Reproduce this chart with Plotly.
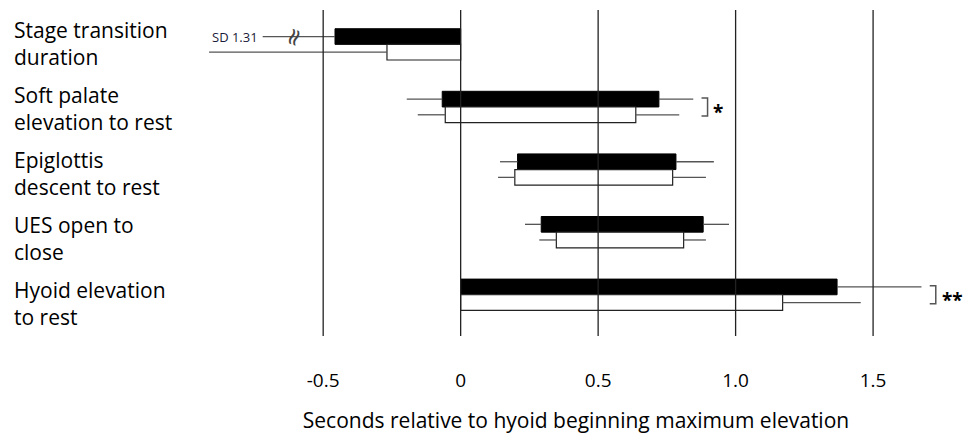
import plotly.graph_objects as go

categories = ["Stage transition<br>duration", "Soft palate<br>elevation to rest",
              "Epiglottis<br>descent to rest", "UES open to<br>close",
              "Hyoid elevation<br>to rest"]
# black (first group) bars
black_start = [-0.457, -0.067, 0.207, 0.293, 0.0]
black_end = [0.0, 0.721, 0.783, 0.882, 1.369]
black_whisk_lo = [-0.72, -0.196, 0.143, 0.234, None]
black_whisk_hi = [None, 0.846, 0.921, 0.976, 1.676]
# white (second group) bars
white_start = [-0.268, -0.056, 0.197, 0.348, 0.0]
white_end = [0.0, 0.637, 0.771, 0.811, 1.171]
white_whisk_lo = [-0.915, -0.156, 0.136, 0.286, None]
white_whisk_hi = [None, 0.795, 0.892, 0.892, 1.455]
significance = ["", "*", "", "", "**"]
x_ticks = [-0.5, 0, 0.5, 1.0, 1.5]
x_ticktext = ["-0.5", "0", "0.5", "1.0", "1.5"]
sd_note = "SD 1.31"

FONT = "Open Sans"
idx = list(range(len(categories)))
W = 0.25

fig = go.Figure()
fig.add_trace(go.Bar(
    y=idx, x=[e - s for s, e in zip(black_start, black_end)], base=black_start,
    orientation="h", width=W, offset=-W,
    marker=dict(color="black", line=dict(color="black", width=1)),
    showlegend=False, hoverinfo="skip"))
fig.add_trace(go.Bar(
    y=idx, x=[e - s for s, e in zip(white_start, white_end)], base=white_start,
    orientation="h", width=W, offset=0,
    marker=dict(color="white", line=dict(color="#222", width=1.2)),
    showlegend=False, hoverinfo="skip"))


def whiskers(starts, ends, lo, hi, dy):
    xs, ys = [], []
    for i, (s, e, l, h) in enumerate(zip(starts, ends, lo, hi)):
        if l is not None:
            xs += [l, s, None]
            ys += [i + dy, i + dy, None]
        if h is not None:
            xs += [e, h, None]
            ys += [i + dy, i + dy, None]
    return xs, ys


for st, en, lo, hi, dy in [(black_start, black_end, black_whisk_lo, black_whisk_hi, -W / 2),
                           (white_start, white_end, white_whisk_lo, white_whisk_hi, W / 2)]:
    xs, ys = whiskers(st, en, lo, hi, dy)
    fig.add_trace(go.Scatter(x=xs, y=ys, mode="lines",
                             line=dict(color="#555", width=1.3),
                             showlegend=False, hoverinfo="skip"))

shapes = []
for t in x_ticks:
    shapes.append(dict(type="line", xref="x", yref="paper", x0=t, x1=t, y0=0, y1=1,
                       line=dict(color="#222", width=1.3), layer="above"))

annotations = []
label_top, label_step = 0.8976, 0.1995   # paper positions of the left-hand label blocks
for i, c in enumerate(categories):
    annotations.append(dict(xref="paper", yref="paper", x=-0.25, y=label_top - label_step * i,
                            text=c, xanchor="left", yanchor="middle", align="left",
                            showarrow=False, font=dict(family=FONT, size=21, color="black")))

# significance brackets
for i, s in enumerate(significance):
    if not s:
        continue
    his = [v for v in (black_whisk_hi[i], white_whisk_hi[i]) if v is not None]
    bx = max(his) + 0.03
    bw = 0.022
    y0, y1 = i - W / 2 - 0.02, i + W / 2 + 0.02
    shapes.append(dict(type="path", xref="x", yref="y",
                       path=f"M {bx} {y0} L {bx + bw} {y0} L {bx + bw} {y1} L {bx} {y1}",
                       line=dict(color="#555", width=1.5)))
    annotations.append(dict(xref="x", yref="y", x=bx + bw + 0.014, y=i + 0.08, text=f"<b>{s}</b>",
                            xanchor="left", yanchor="middle", showarrow=False,
                            font=dict(family=FONT, size=19, color="black")))

# SD note and break marks on truncated whisker
annotations.append(dict(xref="x", yref="y", x=black_whisk_lo[0], y=0 - W / 2, text=sd_note,
                        xanchor="right", yanchor="middle", xshift=-3, showarrow=False,
                        font=dict(family=FONT, size=13, color="#1a1a3a")))
annotations.append(dict(xref="x", yref="y", x=(black_whisk_lo[0] + black_start[0]) / 2 - 0.02,
                        y=0 - W / 2, text="≈", textangle=-70, showarrow=False,
                        font=dict(family="DejaVu Sans", size=24, color="#444")))

fig.update_layout(
    width=972, height=439,
    margin=dict(l=200, r=20, t=10, b=97),
    plot_bgcolor="white", paper_bgcolor="white",
    barmode="overlay",
    shapes=shapes, annotations=annotations,
    xaxis=dict(range=[-0.948, 1.787], tickvals=x_ticks, ticktext=x_ticktext,
               showgrid=False, zeroline=False, showline=False, ticks="",
               ticklabelstandoff=31,
               tickfont=dict(family=FONT, size=19, color="black"),
               title=dict(text="Seconds relative to hyoid beginning maximum elevation",
                          font=dict(family=FONT, size=21, color="black"), standoff=21)),
    yaxis=dict(range=[4.659, -0.549], showticklabels=False, showgrid=False,
               zeroline=False, showline=False, ticks=""),
)

fig.write_html("out.html", config={"displayModeBar": False},
               post_script="document.body.style.margin='0';document.body.style.overflow='hidden';")
